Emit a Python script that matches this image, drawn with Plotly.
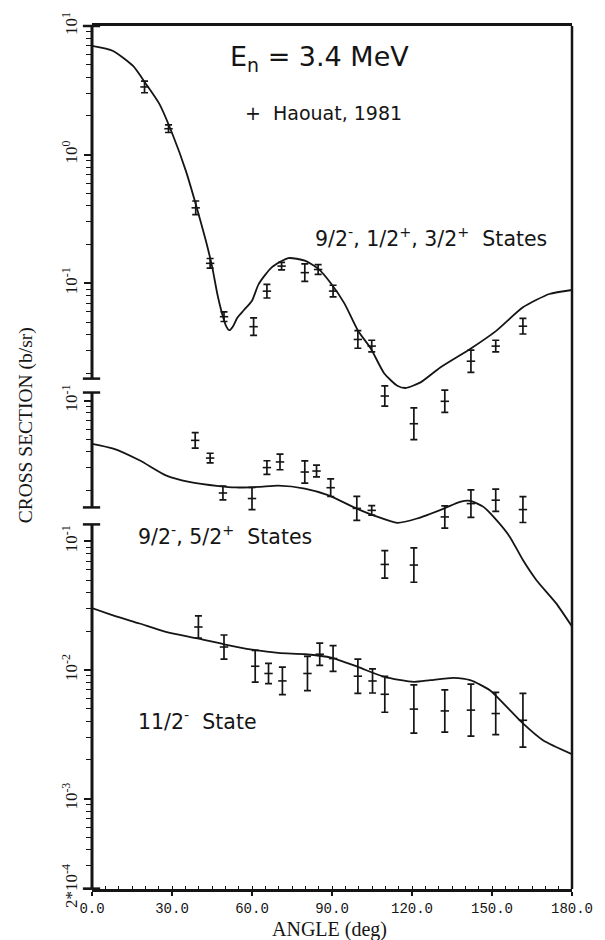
import math
import plotly.graph_objects as go

# ---------------- data (angle in deg, cross section in b/sr) ----------------
# 9/2-, 1/2+, 3/2+ states (top)
top_pts_x = [19.7, 28.7, 38.9, 44.3, 49.5, 60.6, 65.6, 71.1, 79.8, 84.8, 90.4,
             99.7, 104.9, 109.8, 120.7, 132.3, 142.1, 151.4, 161.6]
top_pts_y = [3.36, 1.59, 0.386, 0.143, 0.055, 0.046, 0.0869, 0.136, 0.121, 0.128, 0.087,
             0.0366, 0.0325, 0.0133, 0.0081, 0.0121, 0.0248, 0.0325, 0.0464]
top_pts_err = [0.11, 0.07, 0.13, 0.09, 0.09, 0.17, 0.13, 0.07, 0.17, 0.09, 0.11,
               0.17, 0.11, 0.20, 0.33, 0.22, 0.22, 0.11, 0.15]
top_curve_x = [0, 7.9, 15.4, 20.3, 25.3, 30.2, 35.2, 38.9, 42.7, 45.1, 47.0, 48.8, 50.3,
               51.5, 52.8, 54.5, 57.0, 60.0, 62.5, 67.4, 73.6, 79.8, 84.8, 89.7, 94.7,
               99.7, 104.6, 109.6, 114.5, 117.6, 123.2, 130.6, 141.8, 151.7, 161.6,
               171.5, 180]
top_curve_y = [7.0, 6.4, 4.89, 3.53, 2.47, 1.44, 0.748, 0.413, 0.214, 0.133, 0.0826,
               0.058, 0.0465, 0.0432, 0.046, 0.054, 0.062, 0.0733, 0.0986, 0.133,
               0.157, 0.150, 0.130, 0.0993, 0.0695, 0.0430, 0.0310, 0.0199, 0.0160,
               0.01536, 0.01699, 0.0222, 0.0309, 0.0429, 0.065, 0.0826, 0.0887]

# 9/2-, 5/2+ states (middle)
mid_pts_x = [38.7, 44.3, 49.1, 60.0, 65.6, 70.5, 79.8, 84.2, 89.5, 99.3, 104.9,
             109.8, 120.7, 132.3, 142.1, 151.4, 161.6]
mid_pts_y = [0.049, 0.0357, 0.0191, 0.0173, 0.0301, 0.0333, 0.0278, 0.0283, 0.0210,
             0.0145, 0.0140, 0.00532, 0.00526, 0.01245, 0.0158, 0.0168, 0.0142]
mid_pts_err = [0.15, 0.09, 0.13, 0.22, 0.13, 0.15, 0.22, 0.11, 0.17, 0.24, 0.09,
               0.28, 0.36, 0.22, 0.28, 0.22, 0.26]
mid_curve_x = [0, 8.0, 17.8, 27.7, 36.4, 47.6, 53.8, 62.5, 69.9, 79.8, 88.5, 99.7,
               106.0, 114.5, 121.9, 131.9, 138.0, 141.8, 146.8, 151.7, 156.7, 161.6,
               166.6, 174.0, 180]
mid_curve_y = [0.0461, 0.0423, 0.0343, 0.0262, 0.0233, 0.0216, 0.0211, 0.0213, 0.0218,
               0.0207, 0.0184, 0.0143, 0.0127, 0.0112, 0.0121, 0.01445, 0.0163, 0.0166,
               0.0149, 0.01175, 0.00871, 0.00575, 0.00403, 0.00266, 0.00175]

# 11/2- state (bottom)
bot_pts_x = [39.9, 49.5, 61.2, 66.2, 71.4, 80.8, 85.4, 90.4, 99.7, 105.2, 109.8,
             120.7, 132.3, 142.1, 151.4, 161.6]
bot_pts_y = [0.0216, 0.0151, 0.0107, 0.0094, 0.00823, 0.0094, 0.01327, 0.01228,
             0.00895, 0.00822, 0.00648, 0.00497, 0.00481, 0.00488, 0.00459, 0.00407]
bot_pts_err = [0.22, 0.24, 0.33, 0.20, 0.28, 0.36, 0.22, 0.26, 0.36, 0.24, 0.38,
               0.54, 0.46, 0.59, 0.46, 0.62]
bot_curve_x = [0, 7.9, 17.8, 27.7, 39.5, 49.5, 60.0, 69.9, 79.8, 89.7, 99.7, 109.6,
               120.7, 126.9, 135.6, 141.8, 149.2, 156.7, 161.6, 169.1, 180]
bot_curve_y = [0.0303, 0.0266, 0.0230, 0.0198, 0.0176, 0.01585, 0.01442, 0.01358,
               0.01327, 0.0125, 0.01057, 0.00885, 0.00809, 0.00834, 0.00869, 0.00834,
               0.00697, 0.00488, 0.00385, 0.00285, 0.00222]

x_ticks = [0, 30, 60, 90, 120, 150, 180]
x_ticktext = ["0.0", "30.0", "60.0", "90.0", "120.0", "150.0", "180.0"]

# axis layout: each series on its own log axis spanning the full plot height
DEC = 6.708  # decades visible over full height (same scale for all)
axes_hi = {"y": 1.0, "y2": 1.911, "y3": 3.006}
# visible axis segments (log10 of ends)
segments = {"y": (-1.741, 1.0), "y2": (-1.831, -0.938), "y3": (math.log10(2e-4), -0.868)}
major = {"y": [10, 1, 0.1], "y2": [0.1], "y3": [0.1, 0.01, 0.001, 2e-4]}
major_text = {"y": ["10<sup>1</sup>", "10<sup>0</sup>", "10<sup>-1</sup>"],
              "y2": ["10<sup>-1</sup>"],
              "y3": ["10<sup>-1</sup>", "10<sup>-2</sup>", "10<sup>-3</sup>", "2*10<sup>-4</sup>"]}

INK = "#151515"
SERIF = "Liberation Serif"
SANS = "DejaVu Sans"

fig = go.Figure()


def add_series(xp, yp, err, xc, yc, yaxis):
    fig.add_trace(go.Scatter(x=xc, y=yc, mode="lines", yaxis=yaxis,
                             line=dict(color=INK, width=1.8, shape="spline", smoothing=0.6),
                             showlegend=False, hoverinfo="skip"))
    plus = [v * e for v, e in zip(yp, err)]
    minus = [v * (1 - 1 / (1 + e)) for v, e in zip(yp, err)]
    fig.add_trace(go.Scatter(x=xp, y=yp, mode="markers", yaxis=yaxis,
                             marker=dict(symbol="line-ew-open", size=6, color=INK,
                                         line=dict(width=1.6, color=INK)),
                             error_y=dict(type="data", array=plus, arrayminus=minus,
                                          symmetric=False, color=INK, thickness=1.7, width=3.5),
                             showlegend=False, cliponaxis=False))


add_series(top_pts_x, top_pts_y, top_pts_err, top_curve_x, top_curve_y, "y")
add_series(mid_pts_x, mid_pts_y, mid_pts_err, mid_curve_x, mid_curve_y, "y2")
add_series(bot_pts_x, bot_pts_y, bot_pts_err, bot_curve_x, bot_curve_y, "y3")


def frac(ax, logv):
    hi = axes_hi[ax]
    return (logv - (hi - DEC)) / DEC


def minor_vals(ax):
    lo, hi = segments[ax]
    vals = []
    for d in range(-5, 2):
        for m in range(2, 10):
            v = m * 10 ** d
            lv = math.log10(v)
            if lo - 1e-6 <= lv <= hi + 1e-6 and not any(abs(v - t) < 1e-12 for t in major[ax]):
                vals.append(v)
    return vals


shapes = []
for ax in ["y", "y2", "y3"]:
    lo, hi = segments[ax]
    y0, y1 = frac(ax, lo), frac(ax, hi)
    shapes.append(dict(type="line", xref="paper", yref="paper", x0=0, x1=0, y0=y0, y1=y1,
                       line=dict(color=INK, width=3)))
    for yy in (y0, y1):
        shapes.append(dict(type="line", xref="paper", yref="paper", x0=-0.019, x1=0.017,
                           y0=yy, y1=yy, line=dict(color=INK, width=2.5)))
# right border
shapes.append(dict(type="line", xref="paper", yref="paper", x0=1, x1=1, y0=0, y1=1,
                   line=dict(color=INK, width=2.5)))

yax_common = dict(type="log", domain=[0, 1], showgrid=False, zeroline=False, showline=False,
                  ticks="outside", ticklen=7, tickwidth=1.6, tickcolor=INK, tickangle=-90,
                  tickfont=dict(family=SERIF, size=17, color=INK), anchor="x")

layout_axes = {}
for i, ax in enumerate(["y", "y2", "y3"]):
    hi = axes_hi[ax]
    d = dict(yax_common)
    d.update(range=[hi - DEC, hi], tickmode="array", tickvals=major[ax], ticktext=major_text[ax],
             minor=dict(tickmode="array", tickvals=minor_vals(ax), ticks="outside", ticklen=5,
                        tickwidth=1.3, tickcolor=INK, showgrid=False))
    if i > 0:
        d.update(overlaying="y")
    layout_axes["yaxis" if i == 0 else "yaxis%d" % (i + 1)] = d

fig.update_layout(
    width=605, height=940,
    margin=dict(l=92, r=29, t=25, b=51),
    paper_bgcolor="white", plot_bgcolor="white",
    xaxis=dict(range=[0, 180], tickmode="array", tickvals=x_ticks, ticktext=x_ticktext,
               showgrid=False, zeroline=False, showline=True, mirror=True, linewidth=2.5,
               linecolor=INK, ticks="outside", ticklen=4, tickwidth=1.6, tickcolor=INK,
               tickfont=dict(family="Liberation Mono", size=14, color=INK),
               minor=dict(dtick=5, ticks="inside", ticklen=3, tickwidth=1.2, tickcolor=INK)),
    shapes=shapes,
    **layout_axes,
)

ann = [
    dict(text="E<sub>n</sub> = 3.4 MeV", x=0.473, y=0.962, size=27),
    dict(text="+  Haouat, 1981", x=0.483, y=0.8993, size=19),
    dict(text="9/2<sup>-</sup>, 1/2<sup>+</sup>, 3/2<sup>+</sup>  States", x=0.7066, y=0.7546, size=20.5),
    dict(text="9/2<sup>-</sup>, 5/2<sup>+</sup>  States", x=0.2769, y=0.4097, size=20.5),
    dict(text="11/2<sup>-</sup>  State", x=0.219, y=0.1956, size=20.5),
]
for a in ann:
    fig.add_annotation(text=a["text"], x=a["x"], y=a["y"], xref="paper", yref="paper",
                       showarrow=False, xanchor="center", yanchor="middle",
                       font=dict(family=SANS, size=a["size"], color=INK))

fig.add_annotation(text="ANGLE (deg)", x=0.494, y=-0.0465, xref="paper", yref="paper",
                   showarrow=False, xanchor="center", yanchor="middle",
                   font=dict(family=SERIF, size=20, color=INK))
fig.add_annotation(text="CROSS SECTION (b/sr)", x=-0.138, y=0.537, xref="paper", yref="paper",
                   showarrow=False, textangle=-90, xanchor="center", yanchor="middle",
                   font=dict(family=SERIF, size=19.5, color=INK))

fig.write_html("out.html")
